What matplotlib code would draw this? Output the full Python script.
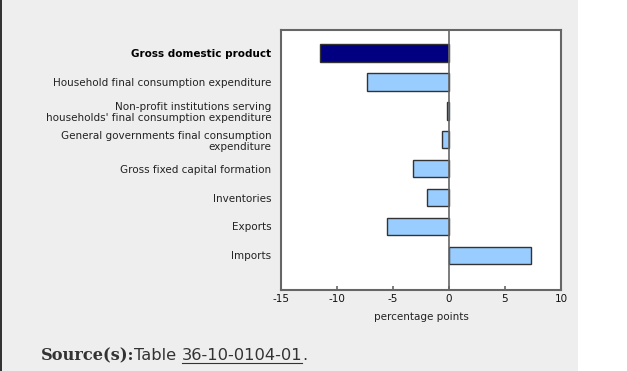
import matplotlib
matplotlib.use("Agg")
import matplotlib.pyplot as plt
from matplotlib.patches import Rectangle

categories = [
    "Gross domestic product",
    "Household final consumption expenditure",
    "Non-profit institutions serving\nhouseholds' final consumption expenditure",
    "General governments final consumption\nexpenditure",
    "Gross fixed capital formation",
    "Inventories",
    "Exports",
    "Imports",
]
values = [-11.5, -7.35, -0.2, -0.6, -3.25, -2.0, -5.5, 7.35]
xticks = [-15, -10, -5, 0, 5, 10]
colors = ["#000080"] + ["#99ccff"] * 7

W, H = 627, 371
fig = plt.figure(figsize=(W / 100, H / 100), dpi=100)
fig.patch.set_facecolor("white")
# gray panel
fig.add_artist(Rectangle((0, 0), 578 / W, 1, transform=fig.transFigure,
                         facecolor="#eeeeee", edgecolor="none", zorder=0))
fig.add_artist(Rectangle((0, 0), 1.5 / W, 1, transform=fig.transFigure,
                         facecolor="#333333", edgecolor="none", zorder=1))

ax = fig.add_axes([281 / W, 1 - 290 / H, 280 / W, 260 / H])
ax.set_facecolor("white")
ypos = list(range(len(categories)))
ax.barh(ypos, values, height=0.6, color=colors, edgecolor="#333333",
        linewidth=1, zorder=3)
ax.axvline(0, color="#666666", linewidth=1.2, zorder=4)
ax.set_xlim(-15, 10)
ax.set_ylim(len(categories) - 1 + 1.2, -0.8)
ax.set_xticks(xticks)
ax.set_xticklabels([str(t) for t in xticks], fontsize=7.5, color="#111111")
ax.set_yticks(ypos)
ax.set_yticklabels(categories, fontsize=7.5, color="#222222",
                   linespacing=1.2)
ax.get_yticklabels()[0].set_fontweight("bold")
ax.get_yticklabels()[0].set_color("#000000")
ax.tick_params(axis="y", length=0, pad=7)
ax.tick_params(axis="x", length=3, width=1.2, color="#666666", pad=3,
               direction="in")
for s in ax.spines.values():
    s.set_color("#666666")
    s.set_linewidth(1.5)
ax.set_xlabel("percentage points", fontsize=7.5, color="#222222", labelpad=6)

# source line
fs = 11.7
y = 1 - 356 / H
t1 = fig.text(41 / W, y, "Source(s):", fontsize=fs, fontweight="bold",
              family="DejaVu Serif", color="#333333", va="center")
fig.canvas.draw()
bb = t1.get_window_extent()
x2 = bb.x1 / W
t2 = fig.text(x2, y, "Table ", fontsize=fs, family="DejaVu Sans",
              color="#333333", va="center")
bb2 = t2.get_window_extent()
t3 = fig.text(bb2.x1 / W, y, "36-10-0104-01", fontsize=fs,
              family="DejaVu Sans", color="#333333", va="center")
bb3 = t3.get_window_extent()
fig.add_artist(plt.Line2D([bb3.x0 / W, bb3.x1 / W],
                          [(bb3.y0 + 1) / H, (bb3.y0 + 1) / H],
                          transform=fig.transFigure, color="#333333",
                          linewidth=0.8))
fig.text(bb3.x1 / W, y, ".", fontsize=fs, family="DejaVu Sans",
         color="#333333", va="center")

fig.savefig("out.png", dpi=100, facecolor=fig.get_facecolor())
